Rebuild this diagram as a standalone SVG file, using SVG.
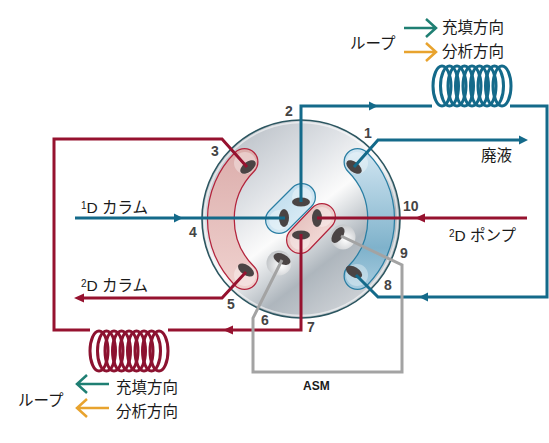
<svg xmlns="http://www.w3.org/2000/svg" width="549" height="443" viewBox="0 0 549 443">
<style>
text{font-family:"Liberation Sans","Noto Sans CJK JP",sans-serif;fill:#1a1a1a}
.t{font-size:15.5px}
.n{font-size:14px;font-weight:bold;fill:#444}
.b{fill:none;stroke:#146a8a;stroke-width:3}
.r{fill:none;stroke:#96122f;stroke-width:3}
.g{fill:none;stroke:#a3a3a3;stroke-width:3}
.cb{fill:none;stroke:#146a8a;stroke-width:3}
.cr{fill:none;stroke:#8c1230;stroke-width:3}
.hole{fill:#4a4444}
.ol{fill:none;stroke-linecap:round;stroke-width:28}
.in{fill:none;stroke-linecap:round;stroke-width:25.500}
.well{fill:#fff;fill-opacity:.35}
.ah{fill:#146a8a}.ahr{fill:#96122f}
</style>
<defs>
<linearGradient id="disc" x1="0.15" y1="0.05" x2="0.85" y2="0.95">
<stop offset="0" stop-color="#b9bfc6"/><stop offset="0.3" stop-color="#dfe2e6"/><stop offset="0.5" stop-color="#fbfbfb"/><stop offset="0.72" stop-color="#aeb6bd"/><stop offset="1" stop-color="#d5d8dc"/>
</linearGradient>
<linearGradient id="pinkB" gradientUnits="userSpaceOnUse" x1="0" y1="150" x2="0" y2="290"><stop offset="0" stop-color="#dcaeac"/><stop offset="1" stop-color="#f0d2cf"/></linearGradient>
<linearGradient id="blueB" gradientUnits="userSpaceOnUse" x1="0" y1="150" x2="0" y2="290"><stop offset="0" stop-color="#d2e6f2"/><stop offset="0.7" stop-color="#7fb2cb"/><stop offset="1" stop-color="#a9cde0"/></linearGradient>
<linearGradient id="pinkP" gradientUnits="userSpaceOnUse" x1="295" y1="210" x2="325" y2="240"><stop offset="0" stop-color="#e2bcb9"/><stop offset="1" stop-color="#f3dbd8"/></linearGradient>
<linearGradient id="blueP" gradientUnits="userSpaceOnUse" x1="280" y1="195" x2="305" y2="225"><stop offset="0" stop-color="#c2deee"/><stop offset="1" stop-color="#dcedf6"/></linearGradient>
<radialGradient id="well" cx="0.6" cy="0.6" r="0.6"><stop offset="0" stop-color="#fff"/><stop offset="1" stop-color="#c4c7ca"/></radialGradient>
</defs>

<g id="rotor">
<circle cx="301" cy="219" r="99" fill="url(#disc)" stroke="#2c5660" stroke-width="1.6"/>
<circle cx="301" cy="219" r="96.500" fill="none" stroke="#fff" stroke-opacity="0.55" stroke-width="1.5"/>
</g>

<g id="band-red">
<path class="ol" stroke="#b3243c" d="M244.500 162A80.500 80.500 0 0 0 244.500 276"/>
<path class="in" stroke="url(#pinkB)" d="M244.500 162A80.500 80.500 0 0 0 244.500 276"/>
</g>
<g id="band-blue">
<path class="ol" stroke="#2a7ea3" d="M357.500 162A80.500 80.500 0 0 1 357.500 276"/>
<path class="in" stroke="url(#blueB)" d="M357.500 162A80.500 80.500 0 0 1 357.500 276"/>
</g>
<g id="pill-blue">
<path class="ol" stroke="#2a7ea3" d="M279 220L302 197"/>
<path class="in" stroke="url(#blueP)" d="M279 220L302 197"/>
</g>
<g id="pill-red">
<path class="ol" stroke="#b3243c" d="M322 217L300 240"/>
<path class="in" stroke="url(#pinkP)" d="M322 217L300 240"/>
</g>
<g id="well-6"><circle cx="279" cy="263" r="12.500" fill="url(#well)"/></g>
<g id="well-9"><circle cx="343" cy="237" r="12.500" fill="url(#well)"/></g>
<g id="wells">
<circle class="well" cx="245" cy="163" r="11"/><circle class="well" cx="245" cy="275" r="11"/><circle class="well" cx="357" cy="163" r="11"/><circle class="well" cx="357" cy="275" r="11"/><circle class="well" cx="279" cy="220" r="10"/><circle class="well" cx="302" cy="197" r="10"/><circle class="well" cx="322" cy="217" r="10"/><circle class="well" cx="300" cy="240" r="10"/>
</g>

<g id="holes">
<ellipse class="hole" cx="248" cy="167" rx="9" ry="5" transform="rotate(-38 248 167)"/>
<ellipse class="hole" cx="246" cy="270" rx="9" ry="5" transform="rotate(35 246 270)"/>
<ellipse class="hole" cx="354" cy="167" rx="9" ry="5" transform="rotate(38 354 167)"/>
<ellipse class="hole" cx="354" cy="272" rx="9" ry="5" transform="rotate(32 354 272)"/>
<ellipse class="hole" cx="301" cy="202" rx="9" ry="4.500"/>
<ellipse class="hole" cx="284" cy="218" rx="5" ry="9"/>
<ellipse class="hole" cx="317" cy="218" rx="5" ry="9"/>
<ellipse class="hole" cx="301" cy="235" rx="9" ry="4.500"/>
<ellipse class="hole" cx="338" cy="235" rx="5" ry="9" transform="rotate(35 338 235)"/>
<ellipse class="hole" cx="282" cy="259" rx="9" ry="5" transform="rotate(25 282 259)"/>
</g>

<g id="connectors">
<path class="b" d="M301 202V106H432"/>
<path class="b" d="M510 106H547V297H378L356 275"/>
<path class="b" d="M354 167L378 140H520"/>
<path class="b" d="M75 218H285"/>
<path class="r" d="M247 167L222 139H54V330H90"/>
<path class="r" d="M168 330H301V234"/>
<path class="r" d="M246 272L222 298H80"/>
<path class="r" d="M527 218H317"/>
<path class="g" d="M282 260L253 318V372H402V265L341 236"/>
<path class="ah" d="M378 106l-9-4.500v9zM528 140l-9-4.500v9zM183 218l-9-4.500v9zM419 297l9-4.500v9z"/>
<path class="ahr" d="M74 298l10-4.500v9zM223 330l10-4.500v9zM415 218l10-4.500v9z"/>
</g>

<g id="coil-top">
<ellipse class="cb" cx="442" cy="86" rx="9" ry="20"/><ellipse class="cb" cx="449.500" cy="86" rx="9" ry="20"/><ellipse class="cb" cx="457" cy="86" rx="9" ry="20"/><ellipse class="cb" cx="464.500" cy="86" rx="9" ry="20"/><ellipse class="cb" cx="472" cy="86" rx="9" ry="20"/><ellipse class="cb" cx="479.500" cy="86" rx="9" ry="20"/><ellipse class="cb" cx="487" cy="86" rx="9" ry="20"/><ellipse class="cb" cx="494.500" cy="86" rx="9" ry="20"/><ellipse class="cb" cx="502" cy="86" rx="9" ry="20"/>
</g>
<g id="coil-bottom">
<ellipse class="cr" cx="99" cy="351" rx="9" ry="20"/><ellipse class="cr" cx="106.500" cy="351" rx="9" ry="20"/><ellipse class="cr" cx="114" cy="351" rx="9" ry="20"/><ellipse class="cr" cx="121.500" cy="351" rx="9" ry="20"/><ellipse class="cr" cx="129" cy="351" rx="9" ry="20"/><ellipse class="cr" cx="136.500" cy="351" rx="9" ry="20"/><ellipse class="cr" cx="144" cy="351" rx="9" ry="20"/><ellipse class="cr" cx="151.500" cy="351" rx="9" ry="20"/><ellipse class="cr" cx="159" cy="351" rx="9" ry="20"/>
</g>

<g id="legend-top">
<path d="M404 28H436M426 19l10 9-10 9" fill="none" stroke="#1f7f73" stroke-width="2.500"/>
<path d="M404 52H436M426 43l10 9-10 9" fill="none" stroke="#e8a32e" stroke-width="2.500"/>
<text class="t" x="442" y="33">充填方向</text>
<text class="t" x="442" y="57">分析方向</text>
<text class="t" x="350" y="49">ループ</text>
</g>
<g id="legend-bottom">
<path d="M109 384H77M87 375l-10 9 10 9" fill="none" stroke="#1f7f73" stroke-width="2.500"/>
<path d="M109 408H77M87 399l-10 9 10 9" fill="none" stroke="#e8a32e" stroke-width="2.500"/>
<text class="t" x="116" y="393">充填方向</text>
<text class="t" x="116" y="417">分析方向</text>
<text class="t" x="18" y="406">ループ</text>
</g>

<g id="labels">
<text class="n" x="285" y="116">2</text>
<text class="n" x="364" y="138">1</text>
<text class="n" x="211" y="156">3</text>
<text class="n" x="189" y="237">4</text>
<text class="n" x="227" y="309">5</text>
<text class="n" x="261" y="325">6</text>
<text class="n" x="307" y="332">7</text>
<text class="n" x="384" y="290">8</text>
<text class="n" x="400" y="258">9</text>
<text class="n" x="403" y="211">10</text>
<text class="t" x="481" y="161">廃液</text>
<text class="t" x="81" y="213"><tspan font-size="10" dy="-4">1</tspan><tspan dy="4">D カラム</tspan></text>
<text class="t" x="81" y="291"><tspan font-size="10" dy="-4">2</tspan><tspan dy="4">D カラム</tspan></text>
<text class="t" x="449" y="241"><tspan font-size="10" dy="-4">2</tspan><tspan dy="4">D ポンプ</tspan></text>
<text x="303" y="390" style="font-size:12px;font-weight:bold">ASM</text>
</g>
</svg>
